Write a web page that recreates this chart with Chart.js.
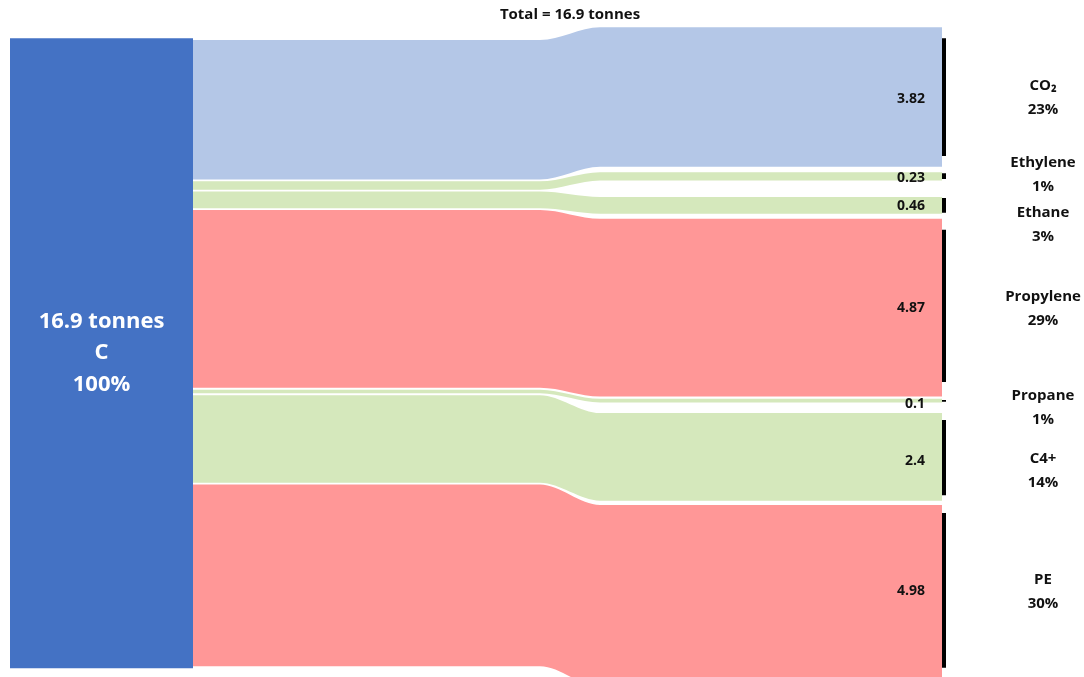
<!DOCTYPE html>
<html>
<head>
<meta charset="utf-8">
<script src="https://cdn.jsdelivr.net/npm/chart.js@4.4.1/dist/chart.umd.min.js"></script>
<style>
  html, body { margin: 0; padding: 0; background: #fff; }
  #wrap { width: 1084px; height: 677px; }
</style>
</head>
<body>
<div id="wrap"><canvas id="myChart"></canvas></div>
<script>
// data
const products = ['CO\u2082', 'Ethylene', 'Ethane', 'Propylene', 'Propane', 'C4+', 'PE'];
const tonnes = [3.82, 0.23, 0.46, 4.87, 0.1, 2.4, 4.98];
const percentLabels = ['23%', '1%', '3%', '29%', '1%', '14%', '30%'];
const sourceLabel = ['16.9 tonnes', 'C', '100%'];
const titleText = 'Total = 16.9 tonnes';

const flowColors = ['#b4c7e7', '#d5e8bc', '#d5e8bc', '#ff9797', '#d5e8bc', '#d5e8bc', '#ff9797'];

// layout: y in tonnes (top down), x in pixels
const leftGap = 0.05;
const rightGaps = [-0.35, 0.15, 0.45, 0.14, 0.06, 0.29, 0.12];
const barInsets = [[0.3, 0.29], [0.03, 0.04], [0.03, 0.03], [0.3, 0.4], [0.03, 0.02], [0.19, 0.15], [0.22, 0.52]];
const labelShift = [1, -2, 19, 1, 7, 14, -4];
const valueShift = [2, 2, 1, 0, 3, 4, -5];
const xNode = [10, 193];
const xBend = [540, 600];
const xEnd = 942;
const xBar = 942;

function loadChart() {
    const ctx = document.getElementById('myChart');
    const total = tonnes.reduce((a, b) => a + b, 0);

    const datasets = [];
    const nodeTop = -leftGap;
    const nodeBottom = total + tonnes.length * leftGap;

    const edge = (pts, extra) => Object.assign({
        data: pts,
        borderWidth: 0,
        pointRadius: 0,
        fill: false,
        cubicInterpolationMode: 'monotone'
    }, extra);

    // source node
    datasets.push(edge([{x: xNode[0], y: nodeTop}, {x: xNode[1], y: nodeTop}], {fill: '+1', backgroundColor: '#4472c4'}));
    datasets.push(edge([{x: xNode[0], y: nodeBottom}, {x: xNode[1], y: nodeBottom}], {}));

    // flows
    const bands = [];
    let l = 0, r = 0;
    tonnes.forEach((v, i) => {
        r += rightGaps[i];
        const band = {l0: l, l1: l + v, r0: r, r1: r + v};
        bands.push(band);
        const path = (a, b) => [
            {x: xNode[1], y: a}, {x: xBend[0], y: a},
            {x: xBend[1], y: b}, {x: xEnd, y: b}
        ];
        datasets.push(edge(path(band.l0, band.r0), {fill: '+1', backgroundColor: flowColors[i]}));
        datasets.push(edge(path(band.l1, band.r1), {}));
        l += v + leftGap;
        r += v;
    });

    // target bars
    bands.forEach((b, i) => {
        datasets.push({
            data: [{x: xBar, y: b.r0 + barInsets[i][0]}, {x: xBar, y: b.r1 - barInsets[i][1]}],
            borderColor: '#000000',
            borderWidth: 8,
            borderCapStyle: 'butt',
            pointRadius: 0,
            fill: false
        });
    });

    const labels = {
        id: 'labels',
        afterDraw(chart) {
            const c = chart.ctx;
            const xs = chart.scales.x, ys = chart.scales.y;
            c.save();
            c.fillStyle = '#111';
            c.textBaseline = 'middle';
            c.font = "bold 15px 'Open Sans', sans-serif";
            c.textAlign = 'center';
            c.fillText(titleText, xs.getPixelForValue(570), 15);

            bands.forEach((b, i) => {
                const mid = ys.getPixelForValue((b.r0 + b.r1) / 2);
                c.font = "bold 14px 'Open Sans', sans-serif";
                c.textAlign = 'right';
                c.fillText(String(tonnes[i]), xs.getPixelForValue(925), mid + valueShift[i]);
                c.textAlign = 'center';
                const lm = mid + labelShift[i];
                c.font = "bold 15px 'Open Sans', sans-serif";
                c.fillText(products[i], xs.getPixelForValue(1043), lm - 12);
                c.fillText(percentLabels[i], xs.getPixelForValue(1043), lm + 12);
            });

            c.fillStyle = '#ffffff';
            c.font = "bold 22px 'Open Sans', sans-serif";
            c.textAlign = 'center';
            const cy = ys.getPixelForValue((nodeTop + nodeBottom) / 2);
            const cx = xs.getPixelForValue((xNode[0] + xNode[1]) / 2);
            sourceLabel.forEach((t, k) => c.fillText(t, cx, cy + (k - 1) * 31.5));
            c.restore();
        }
    };

    new Chart(ctx, {
        type: 'line',
        data: { datasets: datasets },
        options: {
            responsive: true,
            maintainAspectRatio: false,
            animation: false,
            events: [],
            layout: { padding: 0 },
            plugins: {
                legend: { display: false },
                tooltip: { enabled: false },
                filler: { propagate: false }
            },
            scales: {
                x: { type: 'linear', min: 0, max: 1084, display: false },
                y: { type: 'linear', reverse: true, min: -1.096, max: 17.452, display: false }
            }
        },
        plugins: [labels]
    });
}
loadChart();
</script>
</body>
</html>
